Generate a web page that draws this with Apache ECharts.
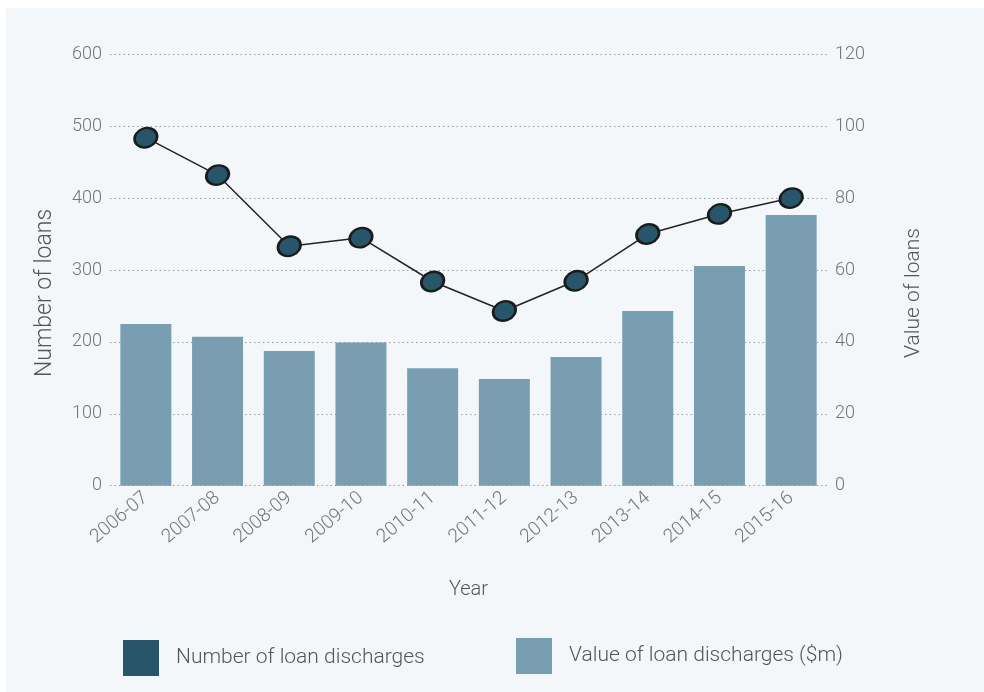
<!DOCTYPE html>
<html>
<head>
<meta charset="utf-8">
<title>Loan discharges</title>
<script src="https://cdn.jsdelivr.net/npm/echarts@6/dist/echarts.min.js"></script>
<style>
  html, body { margin: 0; padding: 0; background: #ffffff; }
  #chart { width: 984px; height: 692px; }
</style>
</head>
<body>
<div id="chart"></div>
<script>
// Financial years
const years = ['2006-07', '2007-08', '2008-09', '2009-10', '2010-11',
               '2011-12', '2012-13', '2013-14', '2014-15', '2015-16'];
// Number of loan discharges (left axis)
const loanCounts = [484, 432, 333, 345, 284, 243, 285, 350, 378, 400];
// Value of loan discharges, $m (right axis)
const loanValues = [45.0, 41.4, 37.5, 39.8, 32.7, 29.7, 35.8, 48.6, 61.1, 75.3];
// Axis tick ranges
const countTicks = { min: 0, max: 600, interval: 100 };
const valueTicks = { min: 0, max: 120, interval: 20 };

const FONT = 'Roboto, "Noto Sans", sans-serif';
const DARK = '#27566a';
const LIGHT = '#799eb2';
const TICK_GREY = '#747474';
const TEXT_GREY = '#555555';

const chart = echarts.init(document.getElementById('chart'), null, { renderer: 'canvas' });

chart.setOption({
  backgroundColor: '#ffffff',
  animation: false,
  textStyle: { fontFamily: FONT },
  graphic: [{
    type: 'rect',
    z: -10,
    silent: true,
    shape: { x: 6, y: 8, width: 980, height: 690 },
    style: { fill: '#f3f7fa' }
  }],
  legend: [{
    left: 118, top: 635,
    itemWidth: 36, itemHeight: 36,
    textStyle: { fontSize: 21, color: TEXT_GREY, fontWeight: 300, padding: [0, 0, 0, 12] },
    data: [{ name: 'Number of loan discharges', icon: 'rect',
             itemStyle: { color: DARK, borderWidth: 0 } }]
  }, {
    left: 511, top: 633,
    itemWidth: 36, itemHeight: 36,
    textStyle: { fontSize: 21, color: TEXT_GREY, fontWeight: 300, padding: [0, 0, 0, 12] },
    data: [{ name: 'Value of loan discharges ($m)', icon: 'rect',
             itemStyle: { color: LIGHT, borderWidth: 0 } }]
  }],
  grid: { left: 110, right: 157, top: 54.3, bottom: 206.3, containLabel: false },
  xAxis: {
    type: 'category',
    data: years,
    name: 'Year',
    nameLocation: 'middle',
    nameGap: 94,
    nameTextStyle: { fontSize: 20, color: TEXT_GREY, fontWeight: 300 },
    axisLine: { show: false },
    axisTick: { show: false },
    axisLabel: { rotate: 40, margin: 10, fontSize: 19, color: TICK_GREY, fontWeight: 300, interval: 0 }
  },
  yAxis: [{
    type: 'value',
    min: countTicks.min, max: countTicks.max, interval: countTicks.interval,
    name: 'Number of loans',
    nameLocation: 'middle',
    nameRotate: 90,
    nameGap: 53,
    nameTextStyle: { fontSize: 23, color: TEXT_GREY, fontWeight: 300, padding: [0, 46, 0, 0] },
    axisLine: { show: false },
    axisTick: { show: false },
    axisLabel: { margin: 8, fontSize: 18, color: TICK_GREY, fontWeight: 300 },
    splitLine: { show: true, lineStyle: { color: '#9a9a9a', type: [1.5, 3], width: 1 } }
  }, {
    type: 'value',
    position: 'right',
    min: valueTicks.min, max: valueTicks.max, interval: valueTicks.interval,
    name: 'Value of loans',
    nameLocation: 'middle',
    nameRotate: 90,
    nameGap: 76,
    nameTextStyle: { fontSize: 21, color: TEXT_GREY, fontWeight: 300, padding: [0, 46, 0, 0] },
    axisLine: { show: false },
    axisTick: { show: false },
    axisLabel: { margin: 8, fontSize: 18, color: TICK_GREY, fontWeight: 300 },
    splitLine: { show: false }
  }],
  series: [{
    name: 'Value of loan discharges ($m)',
    type: 'bar',
    yAxisIndex: 1,
    data: loanValues,
    barWidth: 51,
    itemStyle: { color: LIGHT },
    z: 2
  }, {
    name: 'Number of loan discharges',
    type: 'line',
    yAxisIndex: 0,
    data: loanCounts,
    lineStyle: { color: '#222', width: 1.5 },
    symbol: 'circle',
    symbolSize: [23, 19],
    symbolRotate: 20,
    itemStyle: { color: DARK, borderColor: '#1b1b1b', borderWidth: 2.5 },
    z: 3
  }]
});
</script>
</body>
</html>
